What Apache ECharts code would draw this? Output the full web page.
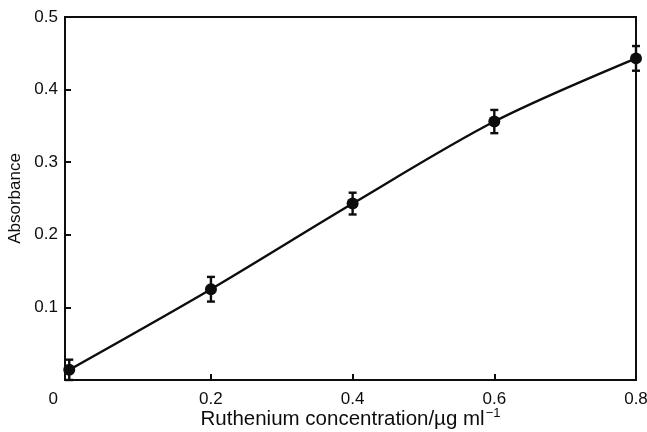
<!DOCTYPE html>
<html>
<head>
<meta charset="utf-8">
<script src="https://cdn.jsdelivr.net/npm/echarts@6/dist/echarts.min.js"></script>
<style>
  html, body { margin: 0; padding: 0; background: #fff; }
  #chart { width: 647px; height: 432px; }
</style>
</head>
<body>
<div id="chart"></div>
<script>
// Ruthenium calibration: concentration (µg/ml) vs absorbance, with error bars
const concentration = [0, 0.2, 0.4, 0.6, 0.8];
const absorbance = [0.014, 0.125, 0.243, 0.356, 0.443];
const errorHalf = [0.014, 0.017, 0.015, 0.016, 0.017];
const xTicks = [0.2, 0.4, 0.6, 0.8];
const xLabels = [0, 0.2, 0.4, 0.6, 0.8];
const yTicks = [0.1, 0.2, 0.3, 0.4, 0.5];

const FONT = '"Liberation Sans", Arial, sans-serif';
const INK = '#0d0d0d';

const points = concentration.map((x, i) => [x, absorbance[i]]);
const bars = concentration.map((x, i) => [x, absorbance[i] - errorHalf[i], absorbance[i] + errorHalf[i]]);

const chart = echarts.init(document.getElementById('chart'));
chart.setOption({
  animation: false,
  backgroundColor: '#fff',
  grid: {
    left: 65, right: 11, top: 17, bottom: 52,
    containLabel: false, outerBoundsMode: 'none',
    show: true, borderColor: INK, borderWidth: 2, backgroundColor: 'transparent'
  },
  xAxis: {
    type: 'value',
    min: -0.006,
    max: 0.8,
    name: '{t|Ruthenium concentration/µg ml}{s|−1}',
    nameLocation: 'middle',
    nameGap: 27,
    nameMoveOverlap: false,
    nameTextStyle: {
      rich: {
        t: { fontFamily: FONT, fontSize: 20.5, color: INK, verticalAlign: 'bottom', lineHeight: 22 },
        s: { fontFamily: FONT, fontSize: 13, color: INK, verticalAlign: 'top', padding: [0, 0, 10, 1] }
      }
    },
    axisLine: { show: true, onZero: false, lineStyle: { color: INK, width: 2 } },
    axisTick: { show: true, inside: true, length: 6, customValues: xTicks, lineStyle: { color: INK, width: 2 } },
    axisLabel: {
      customValues: xLabels, fontFamily: FONT, fontSize: 17, color: INK, margin: 11,
      formatter: v => (v === 0 ? '{z|0}' : String(v)),
      rich: { z: { fontFamily: FONT, fontSize: 17, color: INK, padding: [0, 32, 0, 0] } }
    },
    splitLine: { show: false }
  },
  yAxis: {
    type: 'value',
    min: 0,
    max: 0.5,
    interval: 0.1,
    name: 'Absorbance',
    nameLocation: 'middle',
    nameGap: 41,
    nameMoveOverlap: false,
    nameTextStyle: { fontFamily: FONT, fontSize: 17, color: INK },
    axisLine: { show: true, onZero: false, lineStyle: { color: INK, width: 2 } },
    axisTick: { show: true, inside: true, length: 6, customValues: yTicks, lineStyle: { color: INK, width: 2 } },
    axisLabel: { customValues: yTicks, fontFamily: FONT, fontSize: 17, color: INK, margin: 7 },
    splitLine: { show: false }
  },
  series: [
    {
      type: 'line',
      data: points,
      smooth: 0.3,
      symbol: 'circle',
      symbolSize: 12,
      itemStyle: { color: INK },
      lineStyle: { color: INK, width: 2.4 },
      z: 3
    },
    {
      type: 'custom',
      data: bars,
      renderItem: function (params, api) {
        const x = api.value(0);
        const lo = api.coord([x, api.value(1)]);
        const hi = api.coord([x, api.value(2)]);
        const cap = 4;
        const style = { stroke: INK, lineWidth: 2.4 };
        return {
          type: 'group',
          children: [
            { type: 'line', shape: { x1: lo[0], y1: lo[1], x2: hi[0], y2: hi[1] }, style: style },
            { type: 'line', shape: { x1: lo[0] - cap, y1: lo[1], x2: lo[0] + cap, y2: lo[1] }, style: style },
            { type: 'line', shape: { x1: hi[0] - cap, y1: hi[1], x2: hi[0] + cap, y2: hi[1] }, style: style }
          ]
        };
      },
      z: 4
    }
  ]
});
</script>
</body>
</html>
